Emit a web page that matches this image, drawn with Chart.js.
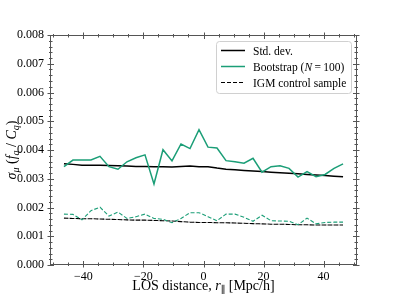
<!DOCTYPE html>
<html><head><meta charset="utf-8">
<script src="https://cdn.jsdelivr.net/npm/chart.js@4.4.1/dist/chart.umd.min.js"></script>
<style>html,body{margin:0;padding:0;background:#fff}#wrap{width:397px;height:297px}</style>
</head><body><div id="wrap"><canvas id="c" width="397" height="297"></canvas></div>
<script>
// ---- data ----
const losDistance = [-46.5,-43.5,-40.5,-37.5,-34.5,-31.5,-28.5,-25.5,-22.5,-19.5,-16.5,-13.5,-10.5,-7.5,-4.5,-1.5,
                     1.5,4.5,7.5,10.5,13.5,16.5,19.5,22.5,25.5,28.5,31.5,34.5,37.5,40.5,43.5,46.5];
const stdDev = [0.00352,0.00350,0.00347,0.00347,0.00347,0.00346,0.00345,0.00344,0.00343,0.00343,0.00342,0.00342,0.00341,0.00343,0.00344,0.00342,
                0.00342,0.00337,0.00333,0.00331,0.00329,0.00327,0.00325,0.00323,0.00321,0.00319,0.00317,0.00315,0.00313,0.00311,0.00309,0.00307];
const bootstrap = [0.00342,0.00365,0.00365,0.00365,0.00378,0.00342,0.00333,0.00359,0.00373,0.00383,0.00282,0.00401,0.00362,0.00421,0.00405,0.00471,
                   0.00410,0.00407,0.00363,0.00359,0.00354,0.00371,0.00323,0.00342,0.00345,0.00336,0.00306,0.00325,0.00307,0.00315,0.00336,0.00352];
const igmControl = [0.00163,0.00162,0.00161,0.00161,0.00160,0.00159,0.00158,0.00157,0.00156,0.00156,0.00155,0.00154,0.00153,0.00151,0.00149,0.00148,
                    0.00148,0.00147,0.00147,0.00146,0.00145,0.00144,0.00143,0.00142,0.00142,0.00141,0.00140,0.00140,0.00139,0.00139,0.00139,0.00139];
const igmBootstrap = [0.00177,0.00176,0.00157,0.00189,0.00201,0.00170,0.00184,0.00162,0.00168,0.00177,0.00162,0.00159,0.00147,0.00162,0.00182,0.00182,
                      0.00168,0.00154,0.00177,0.00177,0.00166,0.00152,0.00173,0.00154,0.00153,0.00152,0.00140,0.00163,0.00143,0.00148,0.00149,0.00149];
const xTickValues = [-40,-20,0,20,40];
const yTickValues = [0,0.001,0.002,0.003,0.004,0.005,0.006,0.007,0.008];
const legendLabels = ['Std. dev.', 'Bootstrap (N\u2009=\u2009100)', 'IGM control sample'];

const GREEN = '#1b9e77';
const SERIF = "'Liberation Serif', 'DejaVu Serif', serif";
const pts = arr => arr.map((v, i) => ({x: losDistance[i], y: v}));

function drawRich(ctx, parts, x, y, align) {
  let w = 0;
  parts.forEach(p => { ctx.font = p.f; w += ctx.measureText(p.t).width; });
  let cx = align === 'center' ? x - w / 2 : x;
  parts.forEach(p => {
    ctx.font = p.f;
    ctx.fillText(p.t, cx, y + (p.dy || 0));
    cx += ctx.measureText(p.t).width;
  });
}

const decor = {
  id: 'decor',
  afterDraw(chart) {
    const ctx = chart.ctx, a = chart.chartArea;
    const xs = chart.scales.x, ys = chart.scales.y;
    ctx.save();
    // frame
    ctx.strokeStyle = '#555'; ctx.lineWidth = 1;
    ctx.strokeRect(Math.round(a.left) + 0.5, Math.round(a.top) + 0.5, Math.round(a.right - a.left) - 1, Math.round(a.bottom - a.top) - 1);
    // ticks
    const L = Math.round(a.left) + 0.5, R = Math.round(a.right) - 0.5, T = Math.round(a.top) + 0.5, B = Math.round(a.bottom) - 0.5;
    ctx.beginPath();
    for (let v = -50; v <= 50; v += 5) {
      const px = Math.round(xs.getPixelForValue(v)) + 0.5;
      const major = v % 20 === 0;
      const o = major ? 3 : 1.5, i = major ? 3.5 : 2;
      ctx.moveTo(px, B + o); ctx.lineTo(px, B - i);
      ctx.moveTo(px, T - o); ctx.lineTo(px, T + i);
    }
    for (let k = 0; k <= 40; k++) {
      const v = k * 0.0002;
      const py = Math.round(ys.getPixelForValue(v)) + 0.5;
      const major = k % 5 === 0;
      const o = major ? 3 : 1.5, i = major ? 3.5 : 2;
      ctx.moveTo(L - o, py); ctx.lineTo(L + i, py);
      ctx.moveTo(R + o, py); ctx.lineTo(R - i, py);
    }
    ctx.stroke();

    // axis titles
    ctx.fillStyle = '#000'; ctx.textBaseline = 'alphabetic';
    const n = '14px ' + SERIF, it = 'italic 14px ' + SERIF, sb = 'italic 10px ' + SERIF, sbn = '10px ' + SERIF;
    drawRich(ctx, [
      {t: 'LOS distance, ', f: n}, {t: 'r', f: it}, {t: '\u2225', f: sbn, dy: 3}, {t: ' [Mpc/h]', f: n}
    ], (a.left + a.right) / 2, 290, 'center');
    ctx.save();
    ctx.translate(16, (a.top + a.bottom) / 2);
    ctx.rotate(-Math.PI / 2);
    drawRich(ctx, [
      {t: '\u03c3', f: it}, {t: '\u03bc', f: sb, dy: 3}, {t: ' (', f: n}, {t: 'f', f: it}, {t: 'q', f: sb, dy: 3},
      {t: ' / ', f: n}, {t: 'C', f: it}, {t: 'q', f: sb, dy: 3}, {t: ')', f: n}
    ], 0, 0, 'center');
    ctx.restore();

    // legend
    const bx = 216.5, by = 41.5, bw = 135, bh = 52, r = 3;
    ctx.beginPath();
    ctx.moveTo(bx + r, by); ctx.lineTo(bx + bw - r, by); ctx.arcTo(bx + bw, by, bx + bw, by + r, r);
    ctx.lineTo(bx + bw, by + bh - r); ctx.arcTo(bx + bw, by + bh, bx + bw - r, by + bh, r);
    ctx.lineTo(bx + r, by + bh); ctx.arcTo(bx, by + bh, bx, by + bh - r, r);
    ctx.lineTo(bx, by + r); ctx.arcTo(bx, by, bx + r, by, r); ctx.closePath();
    ctx.fillStyle = 'rgba(255,255,255,0.85)'; ctx.fill();
    ctx.strokeStyle = '#d0d0d0'; ctx.lineWidth = 1; ctx.stroke();
    const entries = [chart.data.datasets[0], chart.data.datasets[1], chart.data.datasets[2]];
    const rowsY = [50.5, 66.5, 82.5];
    const lf = '11.5px ' + SERIF, lfi = 'italic 11.5px ' + SERIF;
    entries.forEach((ds, k) => {
      const y = rowsY[k];
      ctx.beginPath();
      ctx.strokeStyle = ds.borderColor; ctx.lineWidth = ds.borderWidth;
      ctx.setLineDash(ds.borderDash || []);
      ctx.moveTo(221, y); ctx.lineTo(245, y); ctx.stroke();
      ctx.setLineDash([]);
      ctx.fillStyle = '#000'; ctx.textBaseline = 'middle';
      const lab = ds.label;
      if (lab.indexOf('N') >= 0) {
        const [pre, post] = lab.split('N');
        drawRich(ctx, [{t: pre, f: lf}, {t: 'N', f: lfi}, {t: post, f: lf}], 253, y + 1, 'left');
      } else {
        drawRich(ctx, [{t: lab, f: lf}], 253, y + 1, 'left');
      }
    });
    ctx.restore();
  }
};

new Chart(document.getElementById('c'), {
  type: 'line',
  data: {
    datasets: [
      {label: legendLabels[0], data: pts(stdDev), borderColor: '#000', borderWidth: 1.5, order: 2},
      {label: legendLabels[1], data: pts(bootstrap), borderColor: GREEN, borderWidth: 1.5, order: 1},
      {label: legendLabels[2], data: pts(igmControl), borderColor: '#000', borderWidth: 1.1, borderDash: [4, 2], order: 3},
      {label: 'IGM bootstrap', data: pts(igmBootstrap), borderColor: GREEN, borderWidth: 1.1, borderDash: [4, 2], order: 0},
      {label: 'IGM control (shade)', data: pts(igmControl), borderColor: '#9a9a9a', borderWidth: 1.1, borderDash: [3, 3], borderDashOffset: 3, order: 4}
    ]
  },
  options: {
    responsive: false, animation: false, devicePixelRatio: 1,
    layout: {padding: {top: 35, right: 40, left: 0, bottom: 0}},
    elements: {point: {radius: 0, hoverRadius: 0}, line: {tension: 0, fill: false}},
    plugins: {legend: {display: false}, tooltip: {enabled: false}},
    scales: {
      x: {
        type: 'linear', min: -51.15, max: 51.15,
        grid: {display: false, drawTicks: false}, border: {display: false},
        afterBuildTicks: s => { s.ticks = xTickValues.map(v => ({value: v})); },
        afterFit: s => { s.height = 32; },
        ticks: {padding: 5, color: '#000', font: {family: SERIF, size: 12}, maxRotation: 0,
                callback: v => String(v).replace('-', '\u2212')}
      },
      y: {
        type: 'linear', min: 0, max: 0.008,
        grid: {display: false, drawTicks: false}, border: {display: false},
        afterBuildTicks: s => { s.ticks = yTickValues.map(v => ({value: v})); },
        afterFit: s => { s.width = 50; },
        ticks: {padding: 6, color: '#000', font: {family: SERIF, size: 12},
                callback: v => Number(v).toFixed(3)}
      }
    }
  },
  plugins: [decor]
});
</script></body></html>
